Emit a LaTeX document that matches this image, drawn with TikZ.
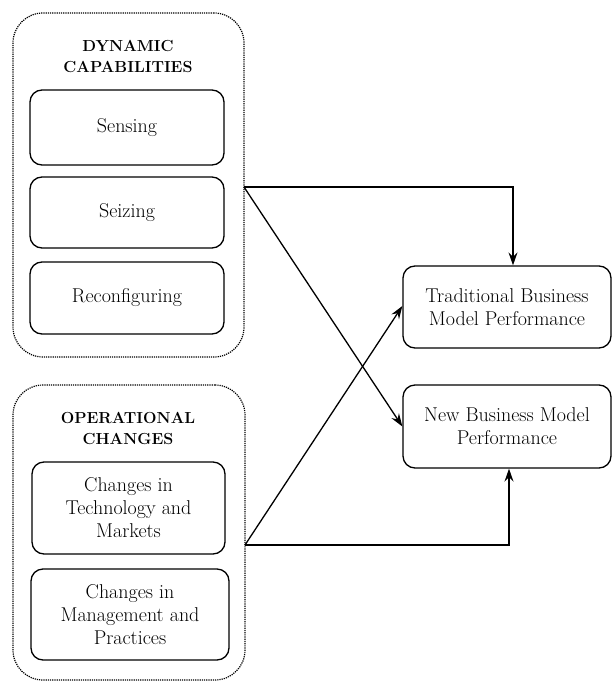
\documentclass[tikz,border=0pt]{standalone}
\usetikzlibrary{arrows.meta}
\begin{document}
\begin{tikzpicture}[x=1pt,y=-1pt,
  outerbox/.style={draw, line width=1.2pt, dash pattern=on 1.2pt off 1pt, rounded corners=30pt, inner sep=0pt},
  innerbox/.style={draw, line width=1.3pt, rounded corners=12pt, inner sep=0pt, align=center, font=\fontsize{20}{23}\selectfont},
  titletext/.style={align=center, font=\fontsize{16}{21}\selectfont\bfseries},
  conn/.style={line width=1.3pt, -{Stealth[length=13pt,width=9pt,inset=4.5pt]}}]
\useasboundingbox (0,0) rectangle (612,682);
% outer groups
\node[outerbox, minimum width=231pt, minimum height=344pt] (dc) at (128.5,185) {};
\node[outerbox, minimum width=232pt, minimum height=295pt] (oc) at (129,532.5) {};
\node[titletext] (dctitle) at (128,56) {DYNAMIC\\CAPABILITIES};
\node[titletext] (octitle) at (128,428) {OPERATIONAL\\CHANGES};
% inner boxes
\node[innerbox, minimum width=194pt, minimum height=75pt] (sensing) at (127,127.5) {Sensing};
\node[innerbox, minimum width=194pt, minimum height=71pt] (seizing) at (127,212.5) {Seizing};
\node[innerbox, minimum width=194pt, minimum height=72pt] (reconf) at (127,298) {Reconfiguring};
\node[innerbox, minimum width=193pt, minimum height=92pt] (tech) at (128.5,508) {Changes in\\Technology and\\Markets};
\node[innerbox, minimum width=198pt, minimum height=91pt] (mgmt) at (130,614.5) {Changes in\\Management and\\Practices};
% outcome boxes
\node[innerbox, minimum width=208pt, minimum height=82pt] (trad) at (507,307) {Traditional Business\\Model Performance};
\node[innerbox, minimum width=208pt, minimum height=83pt] (new) at (507,426.5) {New Business Model\\Performance};
% connector origins
\coordinate (dcout) at (244,187);
\coordinate (ocout) at (245,545);
\draw[conn] (dcout) -| ([xshift=6pt]trad.north);
\draw[conn] (dcout) -- (new.west);
\draw[conn] (ocout) -- ([yshift=1pt]trad.west);
\draw[conn] (ocout) -| ([xshift=2pt]new.south);
\end{tikzpicture}
\end{document}
